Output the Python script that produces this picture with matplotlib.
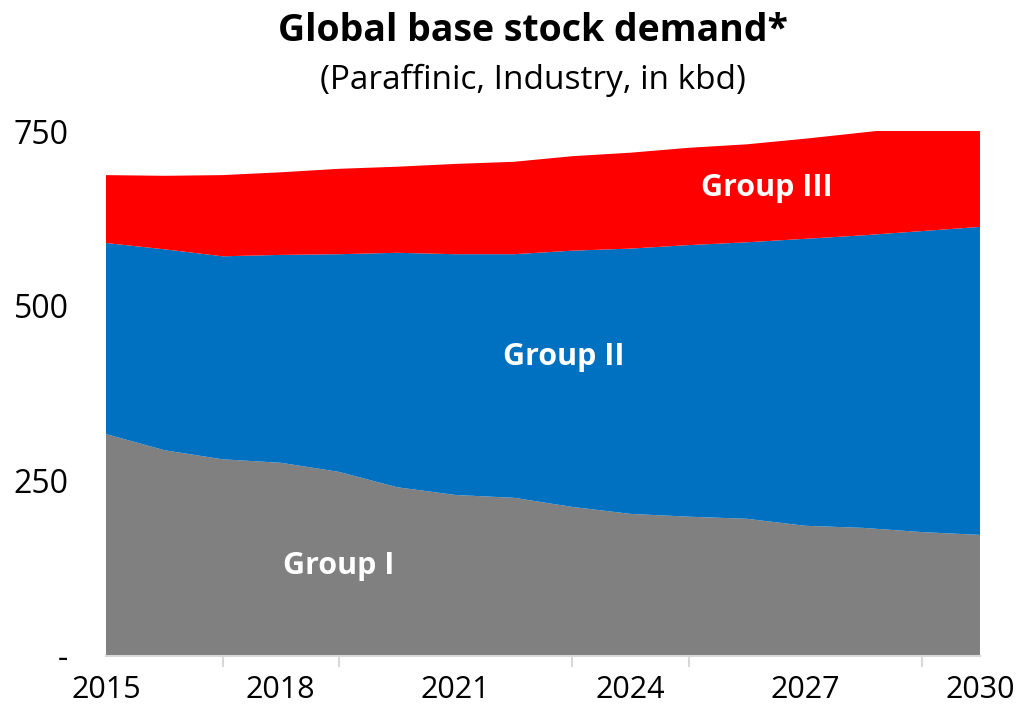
import numpy as np
import matplotlib
matplotlib.use("Agg")
import matplotlib.pyplot as plt
from matplotlib.ticker import FixedLocator

# data (kbd)
years = list(range(2015, 2031))
group1 = [317, 294, 281, 276, 263, 241, 230, 226, 213, 203, 199, 196, 186, 183, 177, 173]
group2_top = [590, 581, 571, 573, 574, 576, 574, 574, 579, 582, 587, 591, 596, 601, 607, 613]
total = [687, 686, 687, 691, 696, 699, 703, 706, 714, 719, 726, 731, 739, 748, 757, 763]
group2 = [t - g for t, g in zip(group2_top, group1)]
group3 = [t - g for t, g in zip(total, group2_top)]

series_names = ["Group I", "Group II", "Group III"]
series_colors = ["#808080", "#0070C0", "#FF0000"]

y_ticks = [0, 250, 500, 750]
y_labels = ["-", "250", "500", "750"]
x_label_years = [2015, 2018, 2021, 2024, 2027, 2030]
x_tick_years = list(range(2015, 2031, 2))

plt.rcParams['font.family'] = ['Open Sans', 'DejaVu Sans']

fig = plt.figure(figsize=(10.19, 7.12), dpi=100)
ax = fig.add_axes([0.104, 0.0787, 0.8577, 0.7373])

ax.stackplot(years, group1, group2, group3, colors=series_colors, linewidth=0)

ax.set_xlim(2015, 2030)
ax.set_ylim(0, 750)

for s in ["top", "right", "left"]:
    ax.spines[s].set_visible(False)
ax.spines["bottom"].set_color("#D9D9D9")
ax.spines["bottom"].set_linewidth(1.5)

ax.set_yticks(y_ticks)
ax.set_yticklabels(y_labels)
ax.tick_params(axis="y", length=0, pad=27, labelsize=23)

ax.set_xticks(x_label_years)
ax.set_xticklabels([str(y) for y in x_label_years])
ax.xaxis.set_minor_locator(FixedLocator(x_tick_years))
ax.tick_params(axis="x", which="major", length=0, pad=14, labelsize=22)
ax.tick_params(axis="x", which="minor", length=8, width=1.5, color="#D9D9D9")

# in-area labels
ax.text(2019.0, 128, "Group I", color="white", fontsize=22, fontweight="bold",
        ha="center", va="center")
ax.text(2022.85, 427, "Group II", color="white", fontsize=22, fontweight="bold",
        ha="center", va="center")
ax.text(2026.35, 668, "Group III", color="white", fontsize=22, fontweight="bold",
        ha="center", va="center")

fig.text(0.523, 0.956, "Global base stock demand*", fontsize=27, fontweight="bold",
         ha="center", va="center")
fig.text(0.523, 0.887, "(Paraffinic, Industry, in kbd)", fontsize=24,
         ha="center", va="center")

fig.savefig("out.png", dpi=100)
